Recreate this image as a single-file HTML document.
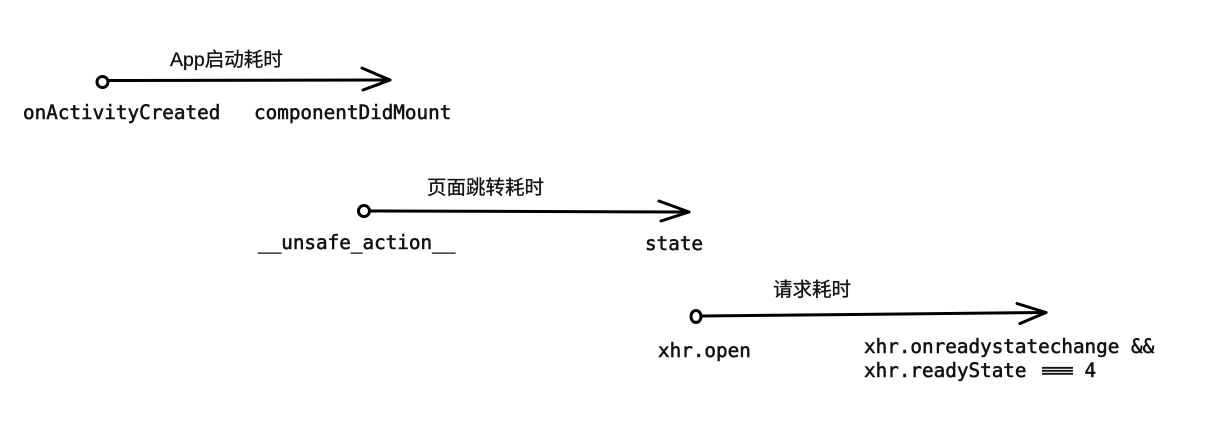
<!DOCTYPE html>
<html>
<head>
<meta charset="utf-8">
<style>
html,body{margin:0;padding:0;background:#fff;}
body{width:1211px;height:431px;overflow:hidden;}
svg{display:block;}
.t{font-family:"Liberation Sans","Noto Sans CJK SC",sans-serif;font-size:19.5px;fill:#111;stroke:#111;stroke-width:0.3px;}
.m{font-family:"DejaVu Sans Mono","Liberation Mono",monospace;font-size:19.3px;fill:#111;stroke:#111;stroke-width:0.55px;}
</style>
</head>
<body>
<svg width="1211" height="431" viewBox="0 0 1211 431" xmlns="http://www.w3.org/2000/svg">
<g fill="none" stroke="#000" stroke-width="3" stroke-linecap="round" stroke-linejoin="round">
  <!-- row 1 -->
  <circle cx="102.5" cy="82" r="5.5"/>
  <path d="M108 80.5 L390 80"/>
  <path d="M362 68 L390 80 L363 90"/>
  <!-- row 2 -->
  <circle cx="364" cy="211" r="5.5"/>
  <path d="M370 211 L689 212"/>
  <path d="M659 201 L689 212 L661 221"/>
  <!-- row 3 -->
  <ellipse cx="696" cy="316.5" rx="5" ry="6"/>
  <path d="M701 316 L1046 312.5"/>
  <path d="M1017 303.5 L1046 312.5 L1020 323.5"/>
</g>
<text class="t" x="170" y="66">App启动耗时</text>
<text class="t" x="427" y="194">页面跳转耗时</text>
<text class="t" x="773" y="296">请求耗时</text>

<text class="m" x="23" y="119">onActivityCreated</text>
<text class="m" x="254" y="119">componentDidMount</text>
<text class="m" x="258" y="249">__unsafe_action__</text>
<text class="m" x="645" y="250">state</text>
<text class="m" x="658" y="357">xhr.open</text>
<text class="m" x="864" y="353">xhr.onreadystatechange &amp;&amp;</text>
<text class="m" x="864" y="377">xhr.readyState <tspan fill="transparent" stroke="transparent">===</tspan> 4</text>
<g stroke="#111" stroke-width="1.8">
  <path d="M1042 367.8 H1073"/>
  <path d="M1042 370.8 H1073"/>
  <path d="M1042 373.8 H1073"/>
</g>
</svg>
</body>
</html>
